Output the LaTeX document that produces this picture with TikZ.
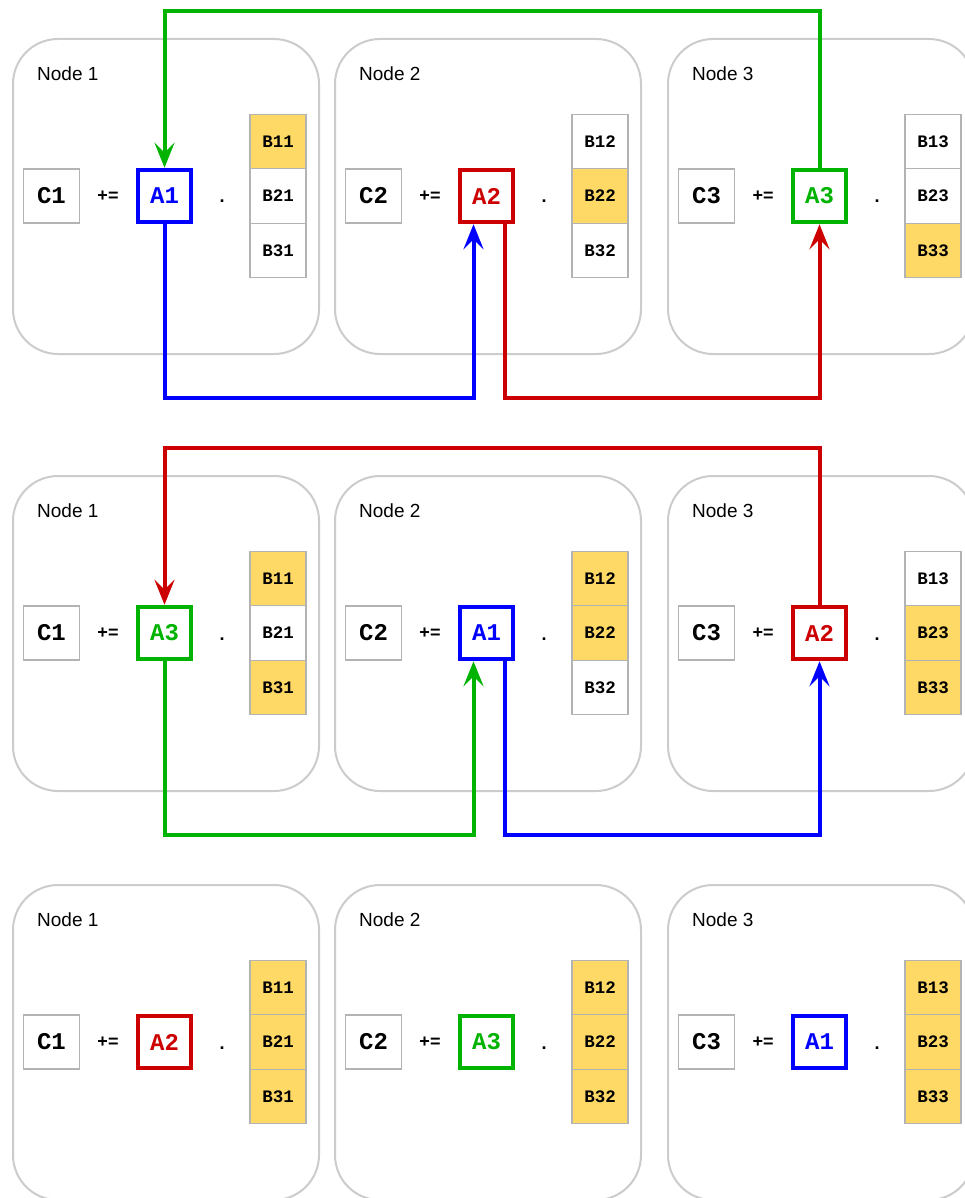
\documentclass[tikz,border=0pt]{standalone}
\usepackage{fontspec}
\setmainfont{Liberation Sans}
\setmonofont{Liberation Mono}
\usetikzlibrary{arrows.meta,calc}
\definecolor{gA}{HTML}{00B300}
\definecolor{rA}{HTML}{CC0000}
\definecolor{bA}{HTML}{0000FF}
\definecolor{yel}{HTML}{FFD966}
\definecolor{pgray}{HTML}{CCCCCC}
\definecolor{bgray}{HTML}{B3B3B3}
\tikzset{
  panelbox/.style={draw=pgray, line width=2pt, rounded corners=45pt, minimum width=306pt, minimum height=315pt, anchor=north west, inner sep=0pt},
  nodelabel/.style={anchor=west, font=\fontsize{19}{21}\selectfont, inner sep=0pt},
  cbox/.style={draw=bgray, line width=1.2pt, minimum width=56pt, minimum height=54pt, inner sep=0pt, font=\fontsize{24}{26}\selectfont\ttfamily\bfseries},
  abox/.style={draw=#1, line width=4pt, minimum width=53pt, minimum height=52.5pt, inner sep=0pt, font=\fontsize{24}{26}\selectfont\ttfamily\bfseries, text=#1},
  bbox/.style={draw=bgray, line width=1.2pt, minimum width=56pt, minimum height=54.5pt, inner sep=0pt, font=\fontsize{17.5}{19}\selectfont\ttfamily\bfseries},
  optext/.style={inner sep=0pt, font=\fontsize{18}{20}\selectfont\bfseries},
  arr/.style={draw=#1, line width=4pt, -{Stealth[length=25pt,width=20pt,inset=10pt]}},
}
\newcommand{\mypanel}[9]{%
\begin{scope}[shift={(#2,#3)}]
\node[panelbox] (#1p) at (0,0) {};
\node[nodelabel] (#1l) at (25,36) {Node #4};
\node[cbox] (#1c) at (39.5,158) {C#4};
\node[optext] (#1pe) at (96,158) {+=};
\node[abox=#5] (#1a) at (152.5,158) {#6};
\node[optext, anchor=base] (#1d) at (210,165) {.};
\node[bbox,fill=#7] (#1b1) at (266,103.5) {B1#4};
\node[bbox,fill=#8] (#1b2) at (266,158) {B2#4};
\node[bbox,fill=#9] (#1b3) at (266,212.5) {B3#4};
\end{scope}}
\begin{document}
\begin{tikzpicture}[x=1pt,y=-1pt]
\useasboundingbox[fill=white] (0,0) rectangle (965,1198);
% row 1
\mypanel{ra}{12}{38}{1}{bA}{A1}{yel}{white}{white}
\mypanel{rb}{334}{38}{2}{rA}{A2}{white}{yel}{white}
\mypanel{rc}{667}{38}{3}{gA}{A3}{white}{white}{yel}
% row 2
\mypanel{sa}{12}{475}{1}{gA}{A3}{yel}{white}{yel}
\mypanel{sb}{334}{475}{2}{bA}{A1}{yel}{yel}{white}
\mypanel{sc}{667}{475}{3}{rA}{A2}{white}{yel}{yel}
% row 3
\mypanel{ta}{12}{884}{1}{rA}{A2}{yel}{yel}{yel}
\mypanel{tb}{334}{884}{2}{gA}{A3}{yel}{yel}{yel}
\mypanel{tc}{667}{884}{3}{bA}{A1}{yel}{yel}{yel}
% row 1 arrows
\coordinate (top1) at (500,11);
\coordinate (low1b) at (300,398);
\coordinate (low1r) at (650,398);
\draw[arr=gA] (rca.north) |- (top1) -| (raa.north);
\draw[arr=bA] (raa.south) |- (low1b) -| ($(rba.south)+(-13,0)$);
\draw[arr=rA] ($(rba.south)+(18,0)$) |- (low1r) -| (rca.south);
% row 2 arrows
\coordinate (top2) at (500,448);
\coordinate (low2g) at (300,835);
\coordinate (low2b) at (650,835);
\draw[arr=rA] (sca.north) |- (top2) -| (saa.north);
\draw[arr=gA] (saa.south) |- (low2g) -| ($(sba.south)+(-13,0)$);
\draw[arr=bA] ($(sba.south)+(18,0)$) |- (low2b) -| (sca.south);
\end{tikzpicture}
\end{document}
